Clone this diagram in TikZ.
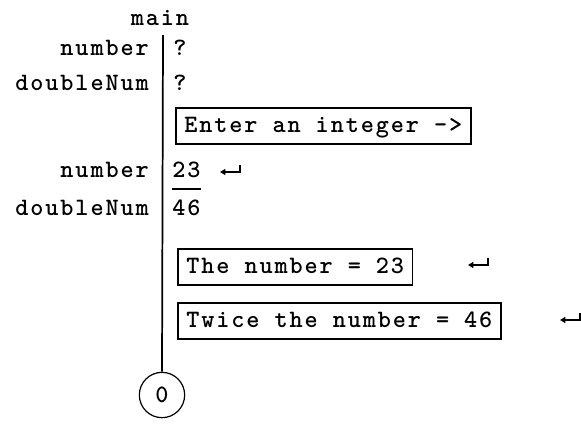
\documentclass[tikz,border=0pt]{standalone}
\usepackage{fontspec}
\setmonofont{lmmonolt10-bold.otf}[LetterSpace=7.6]
\usetikzlibrary{arrows.meta}
\tikzset{
  code/.style={font=\ttfamily\fontsize{18.75pt}{20pt}\selectfont, inner sep=0pt},
  outbox/.style={code, draw, line width=1.2pt, inner xsep=6.4pt, inner ysep=3.75pt,
                 text height=14.25pt, text depth=5.25pt, anchor=base west},
  lifeline/.style={line width=1.3pt},
  retsym/.pic={\draw[line width=1.1pt, -{Triangle[length=4pt,width=4.5pt]}] (20,-1) -- (20,6) -- (0,6);}
}
\begin{document}
\begin{tikzpicture}[x=0.75pt,y=-0.75pt]
\useasboundingbox (0,0) rectangle (581,426);
% header
\node[code, anchor=base] (main) at (160,25) {main};
\coordinate (top) at (163,35);
% first variables
\node[code, anchor=base east] (n1) at (149,55) {number};
\node[code, anchor=base east] (d1) at (149,90.5) {doubleNum};
\node[code, anchor=base west] (q1) at (173,55) {?};
\node[code, anchor=base west] (q2) at (173,90.5) {?};
% prompt
\node[outbox] (prompt) at (175,132) {Enter an integer ->};
% second variables
\node[code, anchor=base east] (n2) at (149,177.5) {number};
\node[code, anchor=base east] (d2) at (149,215) {doubleNum};
\node[code, anchor=base west] (v23) at (172,177.5) {23};
\node[code, anchor=base west] (v46) at (172,215) {46};
\draw[line width=1.2pt] ([yshift=-11.5*0.75pt]v23.base west) coordinate (u1) -- ([yshift=-11.5*0.75pt]v23.base east) coordinate (u2);
\pic at (220,166) {retsym};
% outputs
\node[outbox] (out1) at (177,273) {The number = 23};
\node[outbox] (out2) at (177,327) {Twice the number = 46};
\pic at (468,259) {retsym};
\pic at (560,314) {retsym};
% end
\node[code, draw, circle, line width=0.9pt, minimum size=34pt] (end) at (162,395) {0};
\draw[lifeline] (top) -- (end.north);
\end{tikzpicture}
\end{document}
